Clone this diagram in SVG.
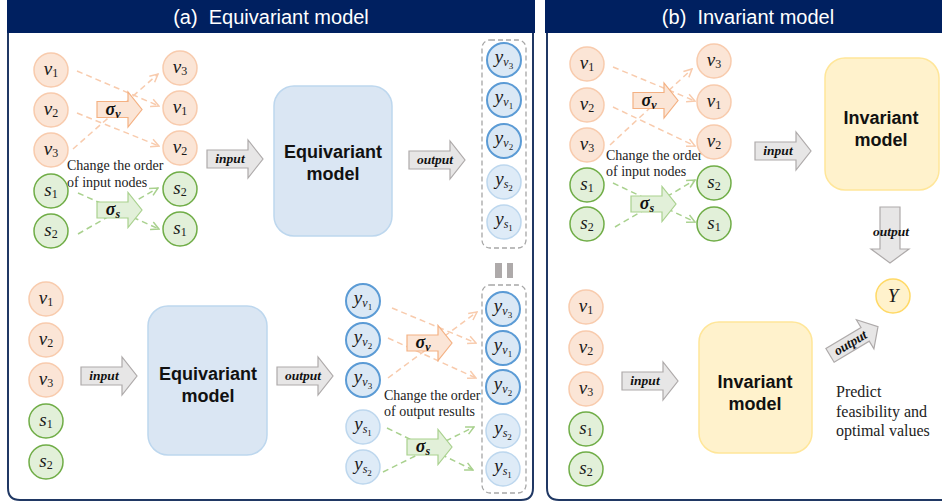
<svg xmlns="http://www.w3.org/2000/svg" xmlns:xlink="http://www.w3.org/1999/xlink" width="942" height="504" viewBox="0 0 942 504">
<style>
.hdr{fill:#002060}
.hdrt{font-family:"Liberation Sans",Arial,sans-serif;font-size:20px;fill:#fff;text-anchor:middle}
.panel{fill:none;stroke:#203864;stroke-width:2}
.nv{fill:#FBE5D6;stroke:#F8CBAD;stroke-width:1.5}
.ns{fill:#E2F0D9;stroke:#70AD47;stroke-width:1.5}
.nyd{fill:#DAE8F5;stroke:#5B9BD5;stroke-width:2}
.nyl{fill:#DEEBF7;stroke:#BDD7EE;stroke-width:1.5}
.ny{fill:#FFF2CC;stroke:#FFD966;stroke-width:1.5}
.m{font-family:"Liberation Serif","DejaVu Serif",serif;font-style:italic;font-size:19px;text-anchor:middle;fill:#1a1a1a}
.sub{font-size:12px;font-style:normal}
.subi{font-size:12px}
.sub2{font-size:9px;font-style:normal}
.eqbox{fill:#DAE6F3;stroke:#BDD7EE;stroke-width:1.5}
.invbox{fill:#FFF2CC;stroke:#FFE699;stroke-width:1.5}
.boxt{font-family:"Liberation Sans",Arial,sans-serif;font-weight:bold;font-size:18px;text-anchor:middle;fill:#111}
.garrow{fill:#E7E6E6;stroke:#AEAAAA;stroke-width:1.2}
.varrow{fill:#FBE5D6;stroke:#F4B183;stroke-width:1.2}
.sarrow{fill:#E2F0D9;stroke:#A9D18E;stroke-width:1.2}
.lbl{font-family:"Liberation Serif","DejaVu Serif",serif;font-style:italic;font-weight:bold;font-size:13.5px;text-anchor:middle;fill:#111}
.sig{font-family:"Liberation Serif","DejaVu Serif",serif;font-style:italic;font-weight:bold;font-size:18px;text-anchor:middle;fill:#111}
.note{font-family:"Liberation Serif","DejaVu Serif",serif;font-size:14px;fill:#222}
.note2{font-family:"Liberation Serif","DejaVu Serif",serif;font-size:16px;fill:#222}
.dv{stroke:#F8CBAD;stroke-width:1.5;stroke-dasharray:6 4;fill:none;marker-end:url(#mv)}
.ds{stroke:#A9D18E;stroke-width:1.5;stroke-dasharray:6 4;fill:none;marker-end:url(#ms)}
.dbox{fill:none;stroke:#A6A6A6;stroke-width:1.3;stroke-dasharray:5 3}
</style>
<defs>
<marker id="mv" viewBox="0 0 10 10" refX="9" refY="5" markerWidth="10" markerHeight="10" markerUnits="userSpaceOnUse" orient="auto"><path d="M1,1 L9,5 L1,9" fill="none" stroke="#F8CBAD" stroke-width="1.5"/></marker>
<marker id="ms" viewBox="0 0 10 10" refX="9" refY="5" markerWidth="10" markerHeight="10" markerUnits="userSpaceOnUse" orient="auto"><path d="M1,1 L9,5 L1,9" fill="none" stroke="#A9D18E" stroke-width="1.5"/></marker>
<path id="ga" d="M0,-9 H41 V-19 L56,0 L41,19 V9 H0 Z"/>
<path id="sa" d="M0,-8 H31 V-17.5 L45,0 L31,17.5 V8 H0 Z"/>
</defs>
<rect width="942" height="504" fill="#fff"/>

<!-- Panels -->
<g id="panel-a">
<path class="panel" d="M8,30 V488 Q8,500 20,500 H521 Q533,500 533,488 V30"/>
<rect class="hdr" x="7" y="0" width="528" height="33"/>
<text class="hdrt" x="271" y="24" xml:space="preserve">(a)  Equivariant model</text>
</g>
<g id="panel-b">
<path class="panel" d="M547,30 V488 Q547,500 559,500 H942"/>
<rect class="hdr" x="545" y="0" width="397" height="33"/>
<text class="hdrt" x="748" y="24" xml:space="preserve">(b)  Invariant model</text>
</g>

<!-- Connectors -->
<g id="connectors">
<line class="dv" x1="77" y1="71" x2="159" y2="106"/>
<line class="dv" x1="77" y1="113" x2="159" y2="146"/>
<line class="dv" x1="73" y1="149" x2="158" y2="74"/>
<line class="ds" x1="78" y1="193" x2="159" y2="229"/>
<line class="ds" x1="78" y1="234" x2="158" y2="188"/>

<line class="dv" x1="392" y1="308" x2="476" y2="343"/>
<line class="dv" x1="388" y1="338" x2="476" y2="378"/>
<line class="dv" x1="388" y1="378" x2="477" y2="312"/>
<line class="ds" x1="387" y1="428" x2="473" y2="470"/>
<line class="ds" x1="383" y1="472" x2="474" y2="427"/>

<line class="dv" x1="613" y1="67" x2="695" y2="101"/>
<line class="dv" x1="613" y1="107" x2="695" y2="146"/>
<line class="dv" x1="610" y1="145" x2="692" y2="69"/>
<line class="ds" x1="613" y1="183" x2="695" y2="222"/>
<line class="ds" x1="615" y1="227" x2="695" y2="180"/>
</g>

<!-- Block arrows -->
<g id="arrows">
<g id="sigv-a1" transform="translate(97,109.5)"><use href="#sa" class="varrow"/><text class="sig" x="16" y="5">σ<tspan font-size="12px" dy="3">v</tspan></text></g>
<g id="sigs-a1" transform="translate(97,210)"><use href="#sa" class="sarrow"/><text class="sig" x="16" y="5">σ<tspan font-size="12px" dy="3">s</tspan></text></g>
<g id="in-a1" transform="translate(207,159)"><use href="#ga" class="garrow"/><text class="lbl" x="23" y="4">input</text></g>
<g id="out-a1" transform="translate(409,160)"><use href="#ga" class="garrow"/><text class="lbl" x="26" y="4">output</text></g>

<g id="in-a2" transform="translate(81,376)"><use href="#ga" class="garrow"/><text class="lbl" x="23" y="4">input</text></g>
<g id="out-a2" transform="translate(277,376)"><use href="#ga" class="garrow"/><text class="lbl" x="26" y="4">output</text></g>
<g id="sigv-a2" transform="translate(407,343)"><use href="#sa" class="varrow"/><text class="sig" x="16" y="5">σ<tspan font-size="12px" dy="3">v</tspan></text></g>
<g id="sigs-a2" transform="translate(407,447)"><use href="#sa" class="sarrow"/><text class="sig" x="16" y="5">σ<tspan font-size="12px" dy="3">s</tspan></text></g>

<g id="sigv-b" transform="translate(633,100.5)"><use href="#sa" class="varrow"/><text class="sig" x="16" y="5">σ<tspan font-size="12px" dy="3">v</tspan></text></g>
<g id="sigs-b" transform="translate(631,204)"><use href="#sa" class="sarrow"/><text class="sig" x="16" y="5">σ<tspan font-size="12px" dy="3">s</tspan></text></g>
<g id="in-b1" transform="translate(755,151)"><use href="#ga" class="garrow"/><text class="lbl" x="23" y="4">input</text></g>
<g id="in-b2" transform="translate(622,381)"><use href="#ga" class="garrow"/><text class="lbl" x="23" y="4">input</text></g>
<g id="out-b1"><path class="garrow" d="M880,207 H900 V249 H909 L890,263 L871,249 H880 Z"/><text class="lbl" x="891" y="236">output</text></g>
<g id="out-b2" transform="translate(854,341) rotate(-31)"><path class="garrow" d="M-28,-8 H13 V-17 L28,0 L13,17 V8 H-28 Z"/><text class="lbl" x="-4" y="4">output</text></g>
</g>

<!-- Dashed output boxes -->
<g id="out-box-1"><rect class="dbox" x="482" y="40" width="44" height="208" rx="8"/></g>
<g id="out-box-2"><rect class="dbox" x="482" y="285" width="44" height="208" rx="8"/></g>
<g id="equal-sign"><rect x="495" y="263" width="7" height="15" fill="#AEAAAA"/><rect x="507" y="263" width="6" height="15" fill="#AEAAAA"/></g>

<!-- Model boxes -->
<g id="eq-model-1"><rect class="eqbox" x="274" y="86" width="118" height="150" rx="20"/><text class="boxt" x="333" y="158">Equivariant</text><text class="boxt" x="333" y="180">model</text></g>
<g id="eq-model-2"><rect class="eqbox" x="148" y="306" width="119" height="149" rx="20"/><text class="boxt" x="208" y="380">Equivariant</text><text class="boxt" x="208" y="402">model</text></g>
<g id="inv-model-1"><rect class="invbox" x="825" y="58" width="114" height="132" rx="20"/><text class="boxt" x="881" y="124">Invariant</text><text class="boxt" x="881" y="146">model</text></g>
<g id="inv-model-2"><rect class="invbox" x="699" y="322" width="113" height="131" rx="20"/><text class="boxt" x="755" y="388">Invariant</text><text class="boxt" x="755" y="410">model</text></g>

<!-- Notes -->
<g id="note-a1"><text class="note" x="67" y="170">Change the order</text><text class="note" x="67" y="187">of input nodes</text></g>
<g id="note-a2"><text class="note" x="384" y="400">Change the order</text><text class="note" x="384" y="416">of output results</text></g>
<g id="note-b1"><text class="note" x="606" y="160">Change the order</text><text class="note" x="606" y="176">of input nodes</text></g>
<g id="note-b2"><text class="note2" x="836" y="397">Predict</text><text class="note2" x="836" y="417">feasibility and</text><text class="note2" x="836" y="436">optimal values</text></g>

<!-- Panel (a) top: input nodes -->
<g id="a1-v1"><circle class="nv" cx="51" cy="70" r="17"/><text class="m" x="51" y="75">v<tspan class="sub" dy="2">1</tspan></text></g>
<g id="a1-v2"><circle class="nv" cx="51" cy="110" r="17"/><text class="m" x="51" y="115">v<tspan class="sub" dy="2">2</tspan></text></g>
<g id="a1-v3"><circle class="nv" cx="51" cy="150" r="17"/><text class="m" x="51" y="155">v<tspan class="sub" dy="2">3</tspan></text></g>
<g id="a1-s1"><circle class="ns" cx="51" cy="191" r="17"/><text class="m" x="51" y="196">s<tspan class="sub" dy="2">1</tspan></text></g>
<g id="a1-s2"><circle class="ns" cx="51" cy="231" r="17"/><text class="m" x="51" y="236">s<tspan class="sub" dy="2">2</tspan></text></g>

<g id="a1p-v3"><circle class="nv" cx="180" cy="68" r="17"/><text class="m" x="180" y="73">v<tspan class="sub" dy="2">3</tspan></text></g>
<g id="a1p-v1"><circle class="nv" cx="180" cy="108" r="17"/><text class="m" x="180" y="113">v<tspan class="sub" dy="2">1</tspan></text></g>
<g id="a1p-v2"><circle class="nv" cx="180" cy="148" r="17"/><text class="m" x="180" y="153">v<tspan class="sub" dy="2">2</tspan></text></g>
<g id="a1p-s2"><circle class="ns" cx="180" cy="189" r="17"/><text class="m" x="180" y="194">s<tspan class="sub" dy="2">2</tspan></text></g>
<g id="a1p-s1"><circle class="ns" cx="180" cy="229" r="17"/><text class="m" x="180" y="234">s<tspan class="sub" dy="2">1</tspan></text></g>

<g id="a1-yv3"><circle class="nyd" cx="504" cy="60" r="17"/><text class="m" x="504" y="63">y<tspan class="subi" dy="3">v</tspan><tspan class="sub2" dy="3">3</tspan></text></g>
<g id="a1-yv1"><circle class="nyd" cx="504" cy="100" r="17"/><text class="m" x="504" y="103">y<tspan class="subi" dy="3">v</tspan><tspan class="sub2" dy="3">1</tspan></text></g>
<g id="a1-yv2"><circle class="nyd" cx="504" cy="141" r="17"/><text class="m" x="504" y="144">y<tspan class="subi" dy="3">v</tspan><tspan class="sub2" dy="3">2</tspan></text></g>
<g id="a1-ys2"><circle class="nyl" cx="504" cy="182" r="17"/><text class="m" x="504" y="185">y<tspan class="subi" dy="3">s</tspan><tspan class="sub2" dy="3">2</tspan></text></g>
<g id="a1-ys1"><circle class="nyl" cx="504" cy="222" r="17"/><text class="m" x="504" y="225">y<tspan class="subi" dy="3">s</tspan><tspan class="sub2" dy="3">1</tspan></text></g>

<!-- Panel (a) bottom -->
<g id="a2-v1"><circle class="nv" cx="46" cy="299" r="17"/><text class="m" x="46" y="304">v<tspan class="sub" dy="2">1</tspan></text></g>
<g id="a2-v2"><circle class="nv" cx="46" cy="340" r="17"/><text class="m" x="46" y="345">v<tspan class="sub" dy="2">2</tspan></text></g>
<g id="a2-v3"><circle class="nv" cx="46" cy="380" r="17"/><text class="m" x="46" y="385">v<tspan class="sub" dy="2">3</tspan></text></g>
<g id="a2-s1"><circle class="ns" cx="46" cy="421" r="17"/><text class="m" x="46" y="426">s<tspan class="sub" dy="2">1</tspan></text></g>
<g id="a2-s2"><circle class="ns" cx="46" cy="462" r="17"/><text class="m" x="46" y="467">s<tspan class="sub" dy="2">2</tspan></text></g>

<g id="a2-yv1"><circle class="nyd" cx="363" cy="301" r="17"/><text class="m" x="363" y="304">y<tspan class="subi" dy="3">v</tspan><tspan class="sub2" dy="3">1</tspan></text></g>
<g id="a2-yv2"><circle class="nyd" cx="363" cy="340" r="17"/><text class="m" x="363" y="343">y<tspan class="subi" dy="3">v</tspan><tspan class="sub2" dy="3">2</tspan></text></g>
<g id="a2-yv3"><circle class="nyd" cx="363" cy="380" r="17"/><text class="m" x="363" y="383">y<tspan class="subi" dy="3">v</tspan><tspan class="sub2" dy="3">3</tspan></text></g>
<g id="a2-ys1"><circle class="nyl" cx="363" cy="427" r="17"/><text class="m" x="363" y="430">y<tspan class="subi" dy="3">s</tspan><tspan class="sub2" dy="3">1</tspan></text></g>
<g id="a2-ys2"><circle class="nyl" cx="363" cy="467" r="17"/><text class="m" x="363" y="470">y<tspan class="subi" dy="3">s</tspan><tspan class="sub2" dy="3">2</tspan></text></g>

<g id="a2p-yv3"><circle class="nyd" cx="503" cy="309" r="17"/><text class="m" x="503" y="312">y<tspan class="subi" dy="3">v</tspan><tspan class="sub2" dy="3">3</tspan></text></g>
<g id="a2p-yv1"><circle class="nyd" cx="503" cy="348" r="17"/><text class="m" x="503" y="351">y<tspan class="subi" dy="3">v</tspan><tspan class="sub2" dy="3">1</tspan></text></g>
<g id="a2p-yv2"><circle class="nyd" cx="503" cy="387" r="17"/><text class="m" x="503" y="390">y<tspan class="subi" dy="3">v</tspan><tspan class="sub2" dy="3">2</tspan></text></g>
<g id="a2p-ys2"><circle class="nyl" cx="503" cy="431" r="17"/><text class="m" x="503" y="434">y<tspan class="subi" dy="3">s</tspan><tspan class="sub2" dy="3">2</tspan></text></g>
<g id="a2p-ys1"><circle class="nyl" cx="503" cy="469" r="17"/><text class="m" x="503" y="472">y<tspan class="subi" dy="3">s</tspan><tspan class="sub2" dy="3">1</tspan></text></g>

<!-- Panel (b) top -->
<g id="b1-v1"><circle class="nv" cx="587" cy="64" r="17"/><text class="m" x="587" y="69">v<tspan class="sub" dy="2">1</tspan></text></g>
<g id="b1-v2"><circle class="nv" cx="587" cy="105" r="17"/><text class="m" x="587" y="110">v<tspan class="sub" dy="2">2</tspan></text></g>
<g id="b1-v3"><circle class="nv" cx="587" cy="145" r="17"/><text class="m" x="587" y="150">v<tspan class="sub" dy="2">3</tspan></text></g>
<g id="b1-s1"><circle class="ns" cx="587" cy="185" r="17"/><text class="m" x="587" y="190">s<tspan class="sub" dy="2">1</tspan></text></g>
<g id="b1-s2"><circle class="ns" cx="587" cy="224" r="17"/><text class="m" x="587" y="229">s<tspan class="sub" dy="2">2</tspan></text></g>

<g id="b1p-v3"><circle class="nv" cx="714" cy="61" r="17"/><text class="m" x="714" y="66">v<tspan class="sub" dy="2">3</tspan></text></g>
<g id="b1p-v1"><circle class="nv" cx="714" cy="102" r="17"/><text class="m" x="714" y="107">v<tspan class="sub" dy="2">1</tspan></text></g>
<g id="b1p-v2"><circle class="nv" cx="714" cy="142" r="17"/><text class="m" x="714" y="147">v<tspan class="sub" dy="2">2</tspan></text></g>
<g id="b1p-s2"><circle class="ns" cx="714" cy="183" r="17"/><text class="m" x="714" y="188">s<tspan class="sub" dy="2">2</tspan></text></g>
<g id="b1p-s1"><circle class="ns" cx="714" cy="224" r="17"/><text class="m" x="714" y="229">s<tspan class="sub" dy="2">1</tspan></text></g>

<g id="b-Y"><circle class="ny" cx="893" cy="296" r="17"/><text class="m" x="893" y="302" font-size="17px">Y</text></g>

<!-- Panel (b) bottom -->
<g id="b2-v1"><circle class="nv" cx="586" cy="307" r="17"/><text class="m" x="586" y="312">v<tspan class="sub" dy="2">1</tspan></text></g>
<g id="b2-v2"><circle class="nv" cx="586" cy="348" r="17"/><text class="m" x="586" y="353">v<tspan class="sub" dy="2">2</tspan></text></g>
<g id="b2-v3"><circle class="nv" cx="586" cy="389" r="17"/><text class="m" x="586" y="394">v<tspan class="sub" dy="2">3</tspan></text></g>
<g id="b2-s1"><circle class="ns" cx="586" cy="429" r="17"/><text class="m" x="586" y="434">s<tspan class="sub" dy="2">1</tspan></text></g>
<g id="b2-s2"><circle class="ns" cx="586" cy="469" r="17"/><text class="m" x="586" y="474">s<tspan class="sub" dy="2">2</tspan></text></g>
</svg>
